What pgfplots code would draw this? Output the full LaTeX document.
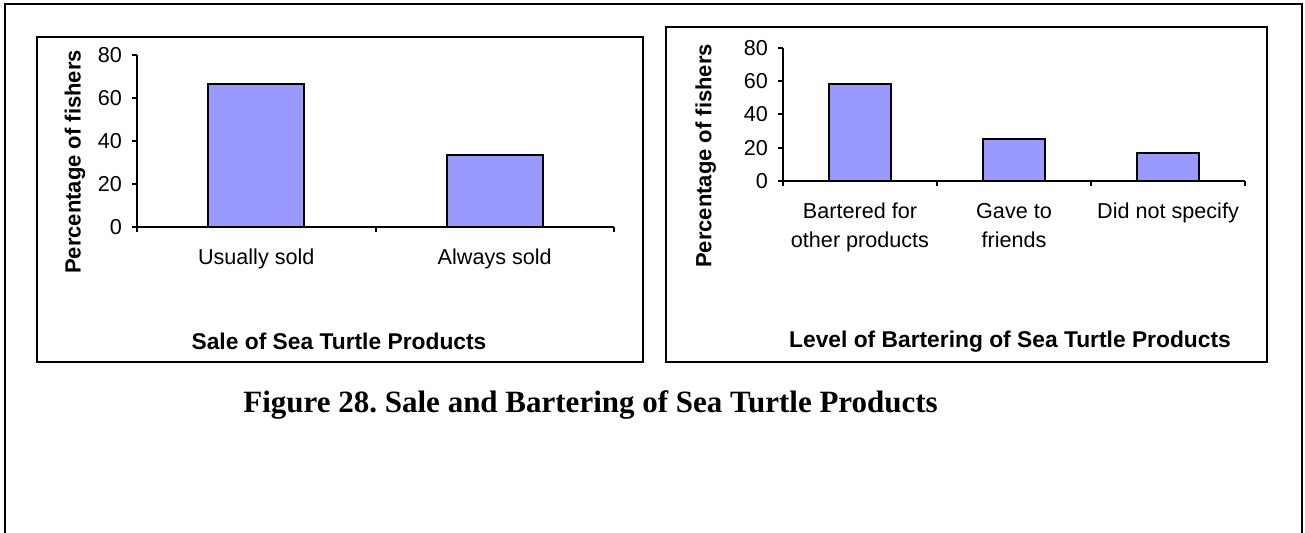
\documentclass[border=0pt]{standalone}
\usepackage{fontspec}
\setmainfont{Liberation Sans}
\newfontfamily\serifface{Liberation Serif}
\usepackage{pgfplots}
\pgfplotsset{compat=1.18}
\frenchspacing

\definecolor{barfill}{HTML}{9999FF}

% Shared look of both bar panels
\pgfplotsset{
  turtlebars/.style={
    scale only axis,
    axis x line*=bottom,
    axis y line*=left,
    axis line style={line width=1pt,-},
    ymin=0, ymax=80,
    ytick={0,20,...,80},
    tick align=outside,
    major tick length=2.5pt,
    minor tick length=2.5pt,
    every tick/.style={black,line width=1pt},
    major x tick style={draw=none},
    tick label style={font=\fontsize{10.8}{14.5}\selectfont},
    yticklabel style={xshift=-1.5pt},
    xticklabel style={align=center,yshift=-5pt},
    /pgf/number format/assume math mode=true,
    ylabel={Percentage of fishers},
    ylabel style={font=\bfseries\fontsize{11}{13}\selectfont,anchor=center},
  },
  turtlebar/.style={ybar,fill=barfill,draw=black,line width=1pt},
}

\begin{document}
\begin{tikzpicture}
  % page layout in half-point units, origin at the top left corner
  \begin{scope}[x=0.5pt,y=-0.5pt]
    \path[use as bounding box] (0,0) rectangle (1305,533);
    % page frame and chart boxes
    \draw[line width=1.25pt] (5,533) -- (5,4) -- (1302,4) -- (1302,533);
    \draw[line width=1pt] (37,37) rectangle (643,362);
    \draw[line width=1pt] (666,27) rectangle (1267,362);
    % panel titles
    \node[anchor=base,inner sep=0pt,font=\bfseries\fontsize{11.4}{13}\selectfont]
      at (339,350) {Sale of Sea Turtle Products};
    \node[anchor=base,inner sep=0pt,font=\bfseries\fontsize{11.4}{13}\selectfont]
      at (1010,348) {Level of Bartering of Sea Turtle Products};
    % figure caption
    \node[anchor=base west,inner sep=0pt,font=\serifface\bfseries\fontsize{15.5}{18}\selectfont]
      at (243,413) {Figure 28. Sale and Bartering of Sea Turtle Products};
  \end{scope}

  % sale of sea turtle products
  \begin{axis}[turtlebars,
      at={(68.5pt,-113.5pt)}, anchor=south west,
      width=238.5pt, height=86pt,
      xmin=-0.5, xmax=1.5,
      xtick={0,1},
      xticklabels={Usually sold,Always sold},
      minor xtick={-0.5,0.5,1.5},
      ylabel style={at={(axis description cs:-0.130,0.378)}},
    ]
    \addplot[turtlebar,bar width=48pt] coordinates {(0,66.7) (1,33.3)};
  \end{axis}

  % bartering of sea turtle products
  \begin{axis}[turtlebars,
      at={(391.5pt,-90.5pt)}, anchor=south west,
      width=231pt, height=66.5pt,
      xmin=-0.5, xmax=2.5,
      xtick={0,1,2},
      xticklabels={{Bartered for\\other products},{Gave to\\friends},{Did not specify}},
      minor xtick={-0.5,0.5,1.5,2.5},
      ylabel style={at={(axis description cs:-0.167,0.188)}},
    ]
    \addplot[turtlebar,bar width=31pt] coordinates {(0,58.3) (1,25.0) (2,16.7)};
  \end{axis}
\end{tikzpicture}
\end{document}
